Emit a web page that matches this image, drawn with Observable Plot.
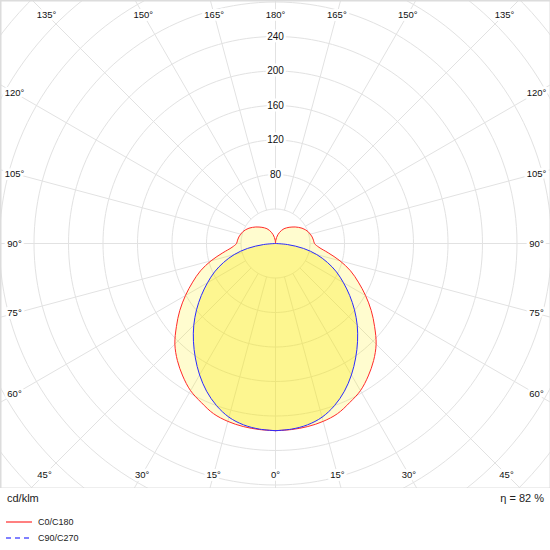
<!DOCTYPE html>
<html>
<head>
<meta charset="utf-8">
<script src="https://cdn.jsdelivr.net/npm/d3@7"></script>
<script src="https://cdn.jsdelivr.net/npm/@observablehq/plot@0.6"></script>
<style>
  body { margin: 0; background: #fff; font-family: "Liberation Sans", Arial, sans-serif; color: #222; }
  #wrap { width: 550px; }
  #chart svg { display: block; }
  .info { position: relative; height: 20px; font-size: 11px; line-height: 20px; }
  .info .l { position: absolute; left: 7px; }
  .info .r { position: absolute; right: 6px; }
  .legend { margin-top: 6px; font-size: 9px; }
  .row { height: 16px; line-height: 16px; display: flex; align-items: center; }
  .row svg { margin-left: 6px; margin-right: 6px; }
</style>
</head>
<body>
<div id="wrap">
  <div id="chart"></div>
  <div class="info"><span class="l">cd/klm</span><span class="r">η = 82 %</span></div>
  <div class="legend" id="legend"></div>
</div>
<script>
// ---- data (cd/klm) ----
const redAngles = [0,5,10,15,20,25,30,35,40,45,50,55,60,65,70,75,80,85,90,95,100,105,110,115,120,125,130,135,140,145,150,155,160,165,170,175,180];
const c0c180 = [217,216.5,215.5,213.5,210,203.5,197,187.5,177,165,150,135.5,120.5,106,92.5,77.3,62,50.6,45.2,44.2,43.2,41.8,40.2,38,35.5,32.6,29.8,27,24.5,22.1,19.8,16.9,13.8,10.5,7,3.5,0];
const blueAngles = [0,5,10,15,20,25,30,35,40,45,50,55,60,65,70,75,80,85,90];
const c90c270 = [217,216,213.5,208.5,200,189,176,162,148,134,119.5,105,91,78,64,49.5,33,14,0];
const radiusRings = [40,80,120,160,200,240,280,320,360,400,440];
const radiusLabels = [80,120,160,200,240];
const angleTicks = [0,15,30,45,60,75,90,105,120,135,150,165,180];
const seriesNames = ["C0/C180","C90/C270"];

// ---- geometry ----
const W = 550, H = 488, cx = 275, cy = 243, s = 0.8625;
const rad = d => d * Math.PI / 180;

function closedCurve(angles, vals) {
  const right = angles.map((a, i) => ({x: vals[i] * Math.sin(rad(a)), y: -vals[i] * Math.cos(rad(a))}));
  const left = angles.map((a, i) => ({x: -vals[i] * Math.sin(rad(a)), y: -vals[i] * Math.cos(rad(a))})).reverse();
  return right.concat(left);
}
const redPts = closedCurve(redAngles, c0c180);
const bluePts = closedCurve(blueAngles, c90c270);

const ringPts = [];
for (const r of radiusRings) for (let t = 0; t <= 360; t += 2) ringPts.push({r, x: r * Math.sin(rad(t)), y: r * Math.cos(rad(t))});

const spokes = d3.range(0, 360, 15).map(a => ({a, x1: 40 * Math.sin(rad(a)), y1: 40 * Math.cos(rad(a)), x2: 700 * Math.sin(rad(a)), y2: 700 * Math.cos(rad(a))}));

// angle labels at the inset frame
const inset = 14;
const xL = (inset - cx) / s, xR = (W - inset - cx) / s, yT = (cy - inset) / s, yB = -(H - inset - cy) / s;
const angleLabels = [];
for (const a of angleTicks) {
  const sides = (a === 0 || a === 180) ? [1] : [-1, 1];
  for (const side of sides) {
    const dx = side * Math.sin(rad(a)), dy = -Math.cos(rad(a));
    const ts = [];
    if (dx > 1e-9) ts.push(xR / dx);
    if (dx < -1e-9) ts.push(xL / dx);
    if (dy > 1e-9) ts.push(yT / dy);
    if (dy < -1e-9) ts.push(yB / dy);
    const t = Math.min(...ts);
    angleLabels.push({x: t * dx, y: t * dy, label: a + "°"});
  }
}

const plot = Plot.plot({
  width: W, height: H,
  margin: 0,
  style: {overflow: "hidden", fontFamily: "'Liberation Sans', Arial, sans-serif", background: "#fff"},
  x: {domain: [-cx / s, (W - cx) / s], range: [0, W], axis: null},
  y: {domain: [-(H - cy) / s, cy / s], range: [H, 0], axis: null},
  marks: [
    Plot.line(ringPts, {x: "x", y: "y", z: "r", stroke: "#e2e2e2", strokeWidth: 1, clip: true}),
    Plot.link(spokes, {x1: "x1", y1: "y1", x2: "x2", y2: "y2", stroke: "#e2e2e2", strokeWidth: 1, clip: true}),
    Plot.line(redPts, {x: "x", y: "y", fill: "#ffee10", fillOpacity: 0.2, stroke: "none", curve: "catmull-rom"}),
    Plot.line(bluePts, {x: "x", y: "y", fill: "#f7e800", fillOpacity: 0.3, stroke: "none", curve: "catmull-rom"}),
    Plot.line(redPts, {x: "x", y: "y", stroke: "#ff2a2a", strokeWidth: 1, curve: "catmull-rom"}),
    Plot.line(bluePts, {x: "x", y: "y", stroke: "#2a2aff", strokeWidth: 1, curve: "catmull-rom"}),
    Plot.text(radiusLabels, {x: 0, y: d => d, text: d => String(d), fontSize: 10, fill: "#111", stroke: "white", strokeWidth: 5}),
    Plot.text(angleLabels, {x: "x", y: "y", text: "label", fontSize: 9.5, fill: "#111", stroke: "white", strokeWidth: 6}),
    Plot.frame({stroke: "#dcdcdc", strokeWidth: 2})
  ]
});
document.getElementById("chart").appendChild(plot);

// legend
const legendColors = ["#ff8080", "#8080ff"];
const legendDash = [null, "5,4"];
const leg = document.getElementById("legend");
seriesNames.forEach((name, i) => {
  const row = document.createElement("div");
  row.className = "row";
  row.innerHTML = `<svg width="26" height="4"><line x1="0" y1="2" x2="26" y2="2" stroke="${legendColors[i]}" stroke-width="2" ${legendDash[i] ? `stroke-dasharray="${legendDash[i]}"` : ""}/></svg><span>${name}</span>`;
  leg.appendChild(row);
});
</script>
</body>
</html>
